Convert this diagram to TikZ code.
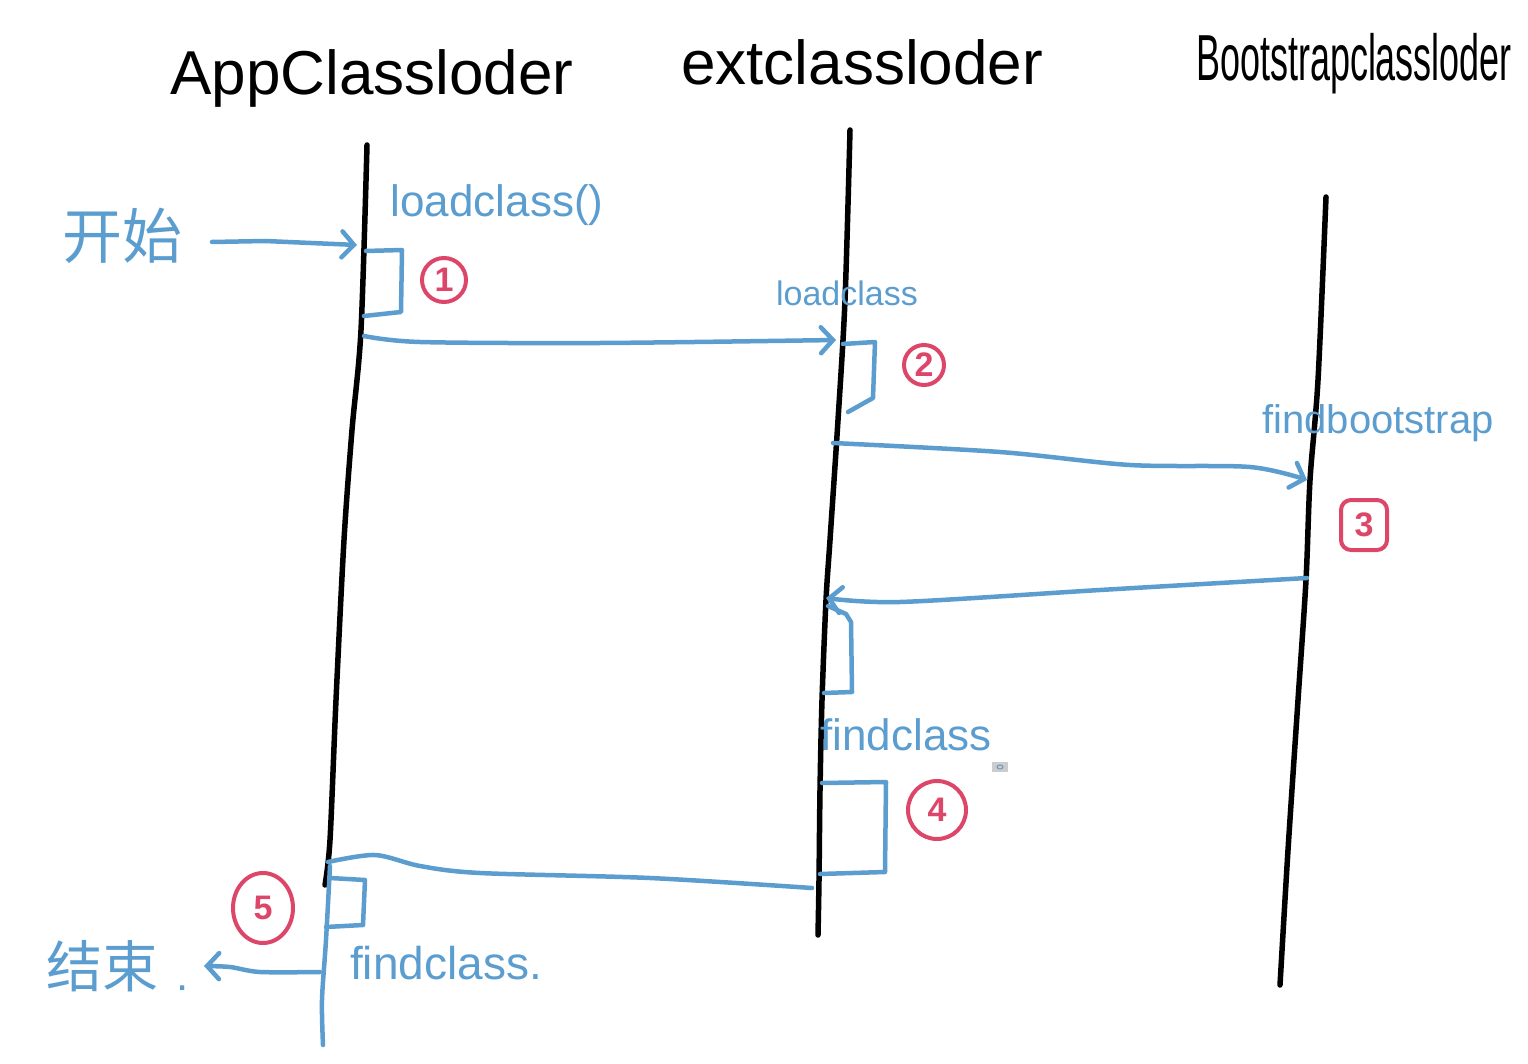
\documentclass[tikz,border=0pt]{standalone}
\usepackage{fontspec}
\setmainfont{Liberation Sans}
\newfontfamily\cjk{Noto Sans CJK SC}
\usetikzlibrary{arrows.meta,shapes.geometric}
\definecolor{pen}{RGB}{91,157,207}
\definecolor{redink}{RGB}{220,70,105}
\tikzset{
  lifeline/.style={line width=5.5pt, black, line cap=round, line join=round},
  msg/.style={line width=4.5pt, pen, line cap=round, line join=round},
  tip/.style={-{Straight Barb[length=12pt,width=26pt,line cap=round]}},
  lbl/.style={text=pen, inner sep=0pt},
  ttl/.style={inner sep=0pt, font=\fontsize{62}{64}\selectfont},
  num/.style={draw=redink, line width=4pt, circle, text=redink, inner sep=0pt,
    font=\fontsize{34}{34}\selectfont\bfseries},
}
\begin{document}
\begin{tikzpicture}[x=1pt,y=-1pt]
\useasboundingbox (0,0) rectangle (1528,1064);
% titles
\node[ttl] (tApp) at (372,78) {AppClassloder};
\node[ttl] (tExt) at (862,62) {extclassloder};
\node[ttl] (tBoot) at (1354,64) {\scalebox{0.58}[1.05]{Bootstrapclassloder}};
% lifelines
\draw[lifeline] plot[smooth] coordinates {(367,145) (361,330) (352,430) (344,540) (336,700) (330,840) (325,885)};
\draw[lifeline] plot[smooth] coordinates {(850,130) (845,300) (838,420) (830,540) (826,600) (822,700) (820,790) (819,880) (818,935)};
\draw[lifeline] plot[smooth] coordinates {(1326,197) (1318,380) (1310,480) (1306,580) (1298,700) (1288,850) (1280,985)};
% start
\node[lbl, font=\cjk\fontsize{60}{60}\selectfont] (start) at (122,236) {开始};
\coordinate (a1s) at (212,242);
\coordinate (a1e) at (357,245);
\draw[msg, tip] (a1s) -- (265,241) -- (a1e);
\node[lbl, font=\fontsize{44}{46}\selectfont] (lc1) at (497,205) {loadclass()};
% self box 1
\draw[msg] (366,251) -- (402,250) -- (401,312) -- (364,316);
\node[num, minimum size=44pt] (n1) at (444,280) {1};
% message app -> ext
\coordinate (a2s) at (364,336);
\coordinate (a2e) at (836,340);
\draw[msg, tip] plot[smooth] coordinates {(a2s) (420,342) (600,343) (a2e)};
\node[lbl, font=\fontsize{34}{36}\selectfont] (lc2) at (847,293) {loadclass};
% self box 2
\draw[msg] (843,344) -- (875,342) -- (873,398) -- (848,412);
\node[num, minimum size=40pt] (n2) at (924,365) {2};
% message ext -> boot
\coordinate (a3s) at (833,443);
\coordinate (a3e) at (1307,480);
\draw[msg, tip] plot[smooth] coordinates {(a3s) (1000,452) (1130,465) (1250,467) (a3e)};
\node[lbl, font=\fontsize{40}{42}\selectfont] (fb) at (1378,423) {findbootstrap};
\node[draw=redink, line width=4pt, rounded corners=10pt, text=redink, inner sep=0pt,
  minimum width=46pt, minimum height=50pt, font=\fontsize{34}{34}\selectfont\bfseries] (n3) at (1364,525) {3};
% return boot -> ext
\coordinate (a4s) at (1307,578);
\coordinate (a4e) at (826,598);
\draw[msg, tip] plot[smooth] coordinates {(a4s) (1100,590) (900,602) (a4e)};
\draw[msg] (828,606) -- (846,614) -- (851,622) -- (852,692) -- (824,693);
\node[lbl, font=\fontsize{44}{46}\selectfont] (fc1) at (906,735) {findclass};
\fill[gray!40] (992,762) rectangle (1008,772);
\draw[pen, line width=1pt] (1000,767) ellipse (3pt and 2pt);
% self box 4
\draw[msg] (822,783) -- (886,782) -- (885,872) -- (820,874);
\node[num, minimum size=58pt] (n4) at (937,810) {4};
% return ext -> app
\coordinate (a5s) at (812,888);
\coordinate (a5e) at (328,862);
\draw[msg] plot[smooth] coordinates {(a5s) (650,878) (480,873) (420,866) (375,855) (a5e)};
% app lower part
\draw[msg] plot[smooth] coordinates {(330,866) (326,940) (322,1000) (323,1045)};
\draw[msg] (330,878) -- (365,880) -- (363,925) -- (326,927);
\node[draw=redink, line width=4pt, ellipse, text=redink, inner sep=0pt,
  minimum width=60pt, minimum height=70pt, font=\fontsize{34}{34}\selectfont\bfseries] (n5) at (263,908) {5};
\node[lbl, font=\fontsize{46}{48}\selectfont] (fc2) at (446,963) {findclass.};
% end
\coordinate (a6s) at (320,972);
\coordinate (a6e) at (204,966);
\draw[msg, tip] plot[smooth] coordinates {(a6s) (260,972) (230,967) (a6e)};
\node[lbl, font=\cjk\fontsize{56}{56}\selectfont] (end) at (102,966) {结束};
\node[lbl, font=\fontsize{44}{44}\selectfont] (dot) at (183,988) {.};
\end{tikzpicture}
\end{document}
